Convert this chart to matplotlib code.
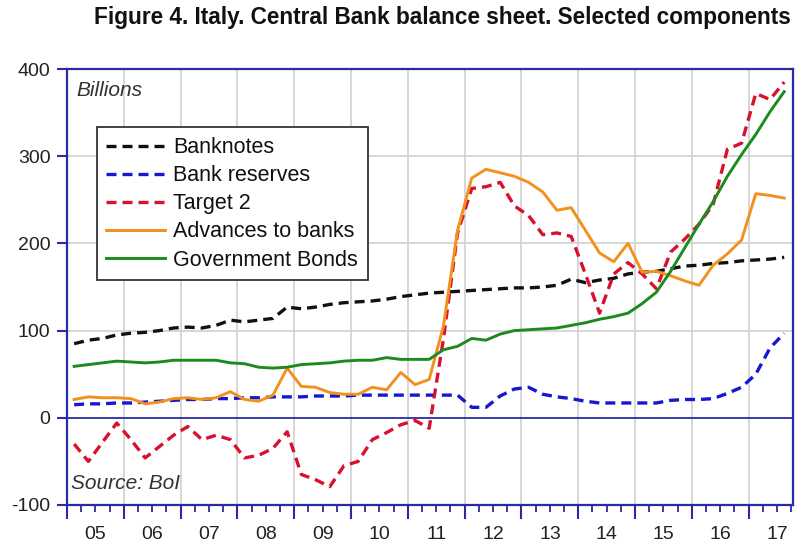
import pandas as pd
import matplotlib.pyplot as plt
from matplotlib import font_manager
from matplotlib.transforms import blended_transform_factory

# Trimestral, 2005Q1 a 2017Q3 (bilhões de euros)
quarters = pd.period_range("2005Q1", "2017Q3", freq="Q")

banknotes = [85, 89, 91, 95, 97, 98, 100, 103, 104, 103, 106, 112, 110, 112, 114, 127,
             125, 127, 130, 132, 133, 134, 136, 139, 141, 143, 144, 145, 146, 147, 148, 149,
             149, 150, 152, 159, 155, 158, 160, 165, 167, 168, 171, 174, 175, 177, 178, 180,
             181, 182, 184]
bank_reserves = [15, 16, 16, 17, 17, 18, 19, 20, 21, 21, 22, 22, 23, 23, 24, 24,
                 24, 25, 25, 25, 26, 26, 26, 26, 26, 26, 26, 26, 12, 12, 25, 33,
                 35, 27, 24, 22, 19, 17, 17, 17, 17, 17, 20, 21, 21, 22, 28, 35,
                 50, 80, 97]
target2 = [-30, -50, -28, -6, -25, -46, -33, -20, -10, -25, -20, -25, -46, -43, -35, -16,
           -65, -71, -79, -55, -50, -25, -17, -8, -3, -12, 90, 212, 263, 265, 270, 243,
           232, 210, 212, 208, 165, 120, 165, 178, 165, 148, 190, 205, 222, 245, 308, 315,
           372, 365, 385]
advances = [21, 24, 23, 23, 22, 16, 18, 22, 23, 21, 23, 30, 21, 19, 26, 57,
            36, 35, 29, 27, 27, 35, 32, 52, 38, 44, 105, 215, 275, 285, 281, 277,
            270, 259, 238, 241, 215, 189, 179, 200, 167, 168, 163, 157, 152, 175, 188, 204,
            257, 255, 252]
gov_bonds = [59, 61, 63, 65, 64, 63, 64, 66, 66, 66, 66, 63, 62, 58, 57, 58,
             61, 62, 63, 65, 66, 66, 69, 67, 67, 67, 78, 82, 91, 89, 96, 100,
             101, 102, 103, 106, 109, 113, 116, 120, 131, 144, 168, 195, 222, 248, 277, 302,
             325, 351, 374]

anos = list(range(2005, 2018))
rotulos_anos = [f"{a % 100:02d}" for a in anos]

# posição no meio de cada trimestre
x = quarters.year + (quarters.quarter - 0.5) / 4

nomes = {f.name for f in font_manager.fontManager.ttflist}
fonte = "Liberation Sans" if "Liberation Sans" in nomes else "DejaVu Sans"
plt.rcParams["font.family"] = [fonte, "DejaVu Sans"]
plt.rcParams["axes.unicode_minus"] = False

azul_eixo = "#2b2ba6"

fig = plt.figure(figsize=(7.99, 5.46), dpi=100)
ax = fig.add_axes([0.0839, 0.0751, 0.9086, 0.7985])

ax.plot(x, banknotes, color="#111111", lw=2.4, dashes=(3, 1.8), label="Banknotes", zorder=3)
ax.plot(x, bank_reserves, color="#1717d0", lw=2.4, dashes=(3, 1.8), label="Bank reserves", zorder=3)
ax.plot(x, target2, color="#d8122e", lw=2.4, dashes=(3, 1.8), label="Target 2", zorder=3)
ax.plot(x, advances, color="#f2911e", lw=2.1, label="Advances to banks", zorder=3)
ax.plot(x, gov_bonds, color="#1c8a1c", lw=2.1, label="Government Bonds", zorder=3)

ax.set_xlim(2005, 2017.78)
ax.set_ylim(-100, 400)

# grade
for a in anos[1:]:
    ax.axvline(a, color="#cfcfcf", lw=1.2, zorder=1)
for v in [100, 200, 300]:
    ax.axhline(v, color="#cfcfcf", lw=1.2, zorder=1)
ax.axhline(0, color=azul_eixo, lw=1.3, zorder=2)

for s in ax.spines.values():
    s.set_color(azul_eixo)
    s.set_linewidth(1.6)

ax.set_yticks([-100, 0, 100, 200, 300, 400])
ax.tick_params(axis="y", direction="out", length=7, width=1.5, color=azul_eixo,
               labelsize=14, labelcolor="#222222", pad=5)
ax.set_xticks(anos)
ax.set_xticks([a + q / 4 for a in anos[:-1] for q in (1, 2, 3)] + [2017.25, 2017.5, 2017.75], minor=True)
ax.tick_params(axis="x", which="major", direction="out", length=10, width=1.5,
               color=azul_eixo, labelbottom=False)
ax.tick_params(axis="x", which="minor", direction="out", length=5, width=1.3, color=azul_eixo)

trans = blended_transform_factory(ax.transData, ax.transAxes)
for a, r in zip(anos, rotulos_anos):
    ax.text(a + 0.5, -0.068, r, transform=trans, ha="center", va="center",
            fontsize=14, color="#222222")

ax.text(0.013, 0.95, "Billions", transform=ax.transAxes, style="italic",
        fontsize=15, color="#333333", va="center")
ax.text(0.006, 0.05, "Source: BoI", transform=ax.transAxes, style="italic",
        fontsize=15, color="#333333", va="center")

leg = ax.legend(loc="upper left", bbox_to_anchor=(0.041, 0.866), fontsize=15.5,
                handlelength=2.7, handletextpad=0.4, labelspacing=0.33,
                borderpad=0.45, fancybox=False, framealpha=1, borderaxespad=0)
leg.get_frame().set_edgecolor("#333333")
leg.get_frame().set_linewidth(1.3)
for t in leg.get_texts():
    t.set_color("#111111")

fig.text(0.99, 0.968, "Figure 4. Italy. Central Bank balance sheet. Selected components",
         ha="right", va="center", fontsize=16.3, fontweight="bold", color="#111111")

plt.savefig("out.png", dpi=100)
